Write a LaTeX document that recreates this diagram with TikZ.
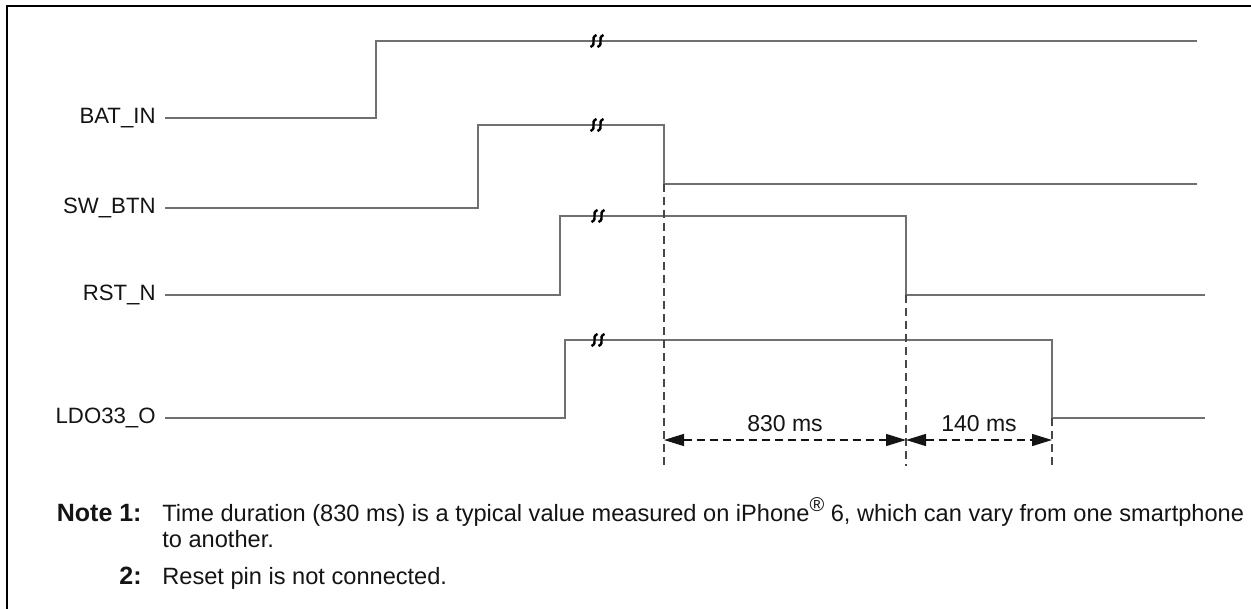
\documentclass[tikz,border=0pt]{standalone}
\usepackage{fontspec}
\setmainfont{Liberation Sans}
\usetikzlibrary{arrows.meta,positioning,calc}
\definecolor{wire}{RGB}{112,112,112}
\definecolor{guidegray}{RGB}{70,70,70}
\definecolor{ink}{RGB}{20,20,20}

% break mark drawn over a high level
\newcommand{\brkmark}[2]{%
  \foreach \dx in {-3.5,3.5}
    \draw[brk] ($(#1,#2)+(\dx,0)+(-3,6)$) .. controls ($(#1,#2)+(\dx,0)+(4,3)$) and ($(#1,#2)+(\dx,0)+(-4,-3)$) .. ($(#1,#2)+(\dx,0)+(3,-6)$);}

\begin{document}
\begin{tikzpicture}[x=0.5pt, y=-0.5pt,
    >={Triangle[length=10pt,width=6pt]}, font=\fontsize{11.1}{13}\selectfont,
    sig/.style={draw=wire, line width=1pt, line join=miter},
    guide/.style={draw=guidegray, line width=0.7pt, dash pattern=on 4pt off 2.5pt},
    dim/.style={<->, draw=ink, line width=0.7pt, dash pattern=on 4pt off 2.5pt},
    brk/.style={draw=black, line width=1.2pt},
    siglbl/.style={anchor=east, inner sep=0pt, text=ink},
    dimlbl/.style={inner sep=1pt, text=ink, font=\fontsize{11.5}{13}\selectfont},
    notetxt/.style={anchor=base west, inner sep=0pt, text=ink, font=\fontsize{11.8}{14}\selectfont},
    notehd/.style={anchor=base east, inner sep=0pt, text=ink, font=\fontsize{12.5}{14}\selectfont\bfseries},
  ]
    \useasboundingbox (0,0) rectangle (1251,609);
    % frame, open to the right and below
    \draw[line width=1.3pt] (7,615) -- (7,6) -- (1260,6);

    \node[siglbl] (bat) at (156,118) {BAT\_IN};
    \node[siglbl] (sw)  at (156,208) {SW\_BTN};
    \node[siglbl] (rst) at (156,295) {RST\_N};
    \node[siglbl] (ldo) at (156,418) {LDO33\_O};

    \draw[sig] ($(bat.east)+(9,0)$) -- (376,118) -- (376,41) -- (1197,41);
    \draw[sig] ($(sw.east)+(9,0)$)  -- (478,208) -- (478,125) -- (664,125) -- (664,184) -- (1197,184);
    \draw[sig] ($(rst.east)+(9,0)$) -- (560,295) -- (560,216) -- (906,216) -- (906,295) -- (1205,295);
    \draw[sig] ($(ldo.east)+(9,0)$) -- (565,418) -- (565,340) -- (1052,340) -- (1052,418) -- (1205,418);

    \brkmark{597}{41}
    \brkmark{597}{125}
    \brkmark{598}{216}
    \brkmark{598}{340}

    \coordinate (t1) at (664,440);
    \coordinate (t2) at (906,440);
    \coordinate (t3) at (1052,440);
    \draw[guide] (664,184) -- (664,466);
    \draw[guide] (906,295) -- (906,466);
    \draw[guide] (1052,418) -- (1052,466);

    \draw[dim] (t1) -- (t2) node[dimlbl,midway,above=3pt] (d1) {830 ms};
    \draw[dim] (t2) -- (t3) node[dimlbl,midway,above=3pt] (d2) {140 ms};

    \node[notetxt] (n1) at (162,521) {Time duration (830 ms) is a typical value measured on iPhone\raisebox{0.75ex}{\fontsize{10}{11}\selectfont\textregistered}~6, which can vary from one smartphone};
    \node[notetxt] (n1b) at (162,547) {to another.};
    \node[notetxt] (n2) at (162,584) {Reset pin is not connected.};
    \node[notehd] (h1) at ($(n1.base west)+(-20,0)$) {Note 1:};
    \node[notehd] (h2) at ($(n2.base west)+(-20,0)$) {2:};
  \end{tikzpicture}
\end{document}
